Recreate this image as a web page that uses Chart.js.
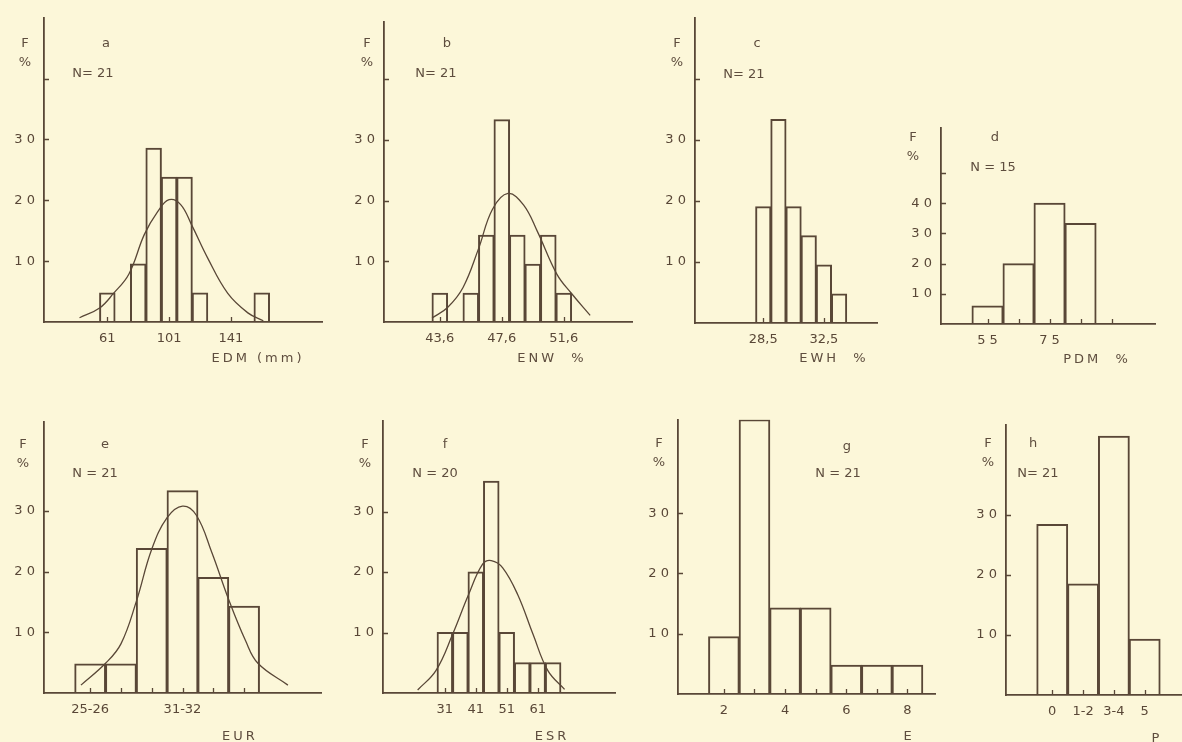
<!DOCTYPE html>
<html><head><meta charset="utf-8">
<script src="https://cdn.jsdelivr.net/npm/chart.js@4"></script>
<style>
html,body{margin:0;padding:0;background:#fcf7d9;width:1182px;height:742px;overflow:hidden;position:relative;}
canvas{position:absolute;}
.t{position:absolute;transform:translate(-50%,-50%);font-family:"DejaVu Sans",sans-serif;font-size:13px;color:#5e4d3e;white-space:pre;line-height:1;}
</style></head><body>
<script>
// ---------- DATA ----------
// a : EDM (mm)
const aBins = [61, 81, 91, 101, 111, 121, 161];
const aFreq = [4.76, 9.52, 28.57, 23.81, 23.81, 4.76, 4.76];
const aCurveX = [43, 56, 65, 75, 85, 93.5, 101, 108.5, 115.5, 126, 139, 152, 162];
const aCurveY = [0.7, 2.3, 4.7, 7.9, 14.4, 18.1, 20.1, 19.3, 16.0, 10.5, 4.7, 1.5, 0.2];
const aXTicks = [61, 101, 141];
const aXLabels = ['61', '101', '141'];
// b : ENW %
const bBins = [43.6, 45.6, 46.6, 47.6, 48.6, 49.6, 50.6, 51.6];
const bFreq = [4.76, 4.76, 14.29, 33.33, 14.29, 9.52, 14.29, 4.76];
const bCurveX = [43.1, 44.1, 45.1, 46.1, 47.0, 48.0, 49.0, 49.9, 51.15, 52.1, 53.3];
const bCurveY = [0.65, 2.4, 5.7, 12.1, 18.6, 21.2, 19.3, 14.9, 7.9, 4.7, 1.1];
const bXTicks = [43.6, 47.6, 51.6];
const bXLabels = ['43,6', '47,6', '51,6'];
// c : EWH %
const cBins = [28.5, 29.5, 30.5, 31.5, 32.5, 33.5];
const cFreq = [19.05, 33.33, 19.05, 14.29, 9.52, 4.76];
const cXTicks = [28.5, 32.5];
const cXLabels = ['28,5', '32,5'];
// d : PDM %
const dBins = [55, 65, 75, 85];
const dFreq = [6.0, 20.0, 40.0, 33.33];
const dXTicks = [55, 65, 75, 85, 95];
const dXLabels = ['5 5', '', '7 5', '', ''];
// e : EUR
const eBins = [25.5, 27.5, 29.5, 31.5, 33.5, 35.5];
const eFreq = [4.76, 4.76, 23.81, 33.33, 19.05, 14.29];
const eCurveX = [24.9, 26.5, 27.5, 28.5, 29.5, 30.5, 31.5, 32.4, 33.4, 34.5, 35.6, 36.4, 38.35];
const eCurveY = [1.3, 4.9, 8.1, 15.1, 23.7, 28.9, 30.8, 29.3, 23.2, 15.4, 8.6, 4.9, 1.3];
const eXTicks = [25.5, 27.5, 29.5, 31.5, 33.5, 35.5];
const eXLabels = ['25-26', '', '', '31-32', '', ''];
// f : ESR
const fBins = [31, 36, 41, 46, 51, 56, 61, 66];
const fFreq = [10, 10, 20, 35, 10, 5, 5, 5];
const fCurveX = [22.2, 28.1, 33.5, 38.6, 43.2, 46.0, 49.7, 54.6, 59.5, 64.3, 69.7];
const fCurveY = [0.5, 3.7, 9.7, 16.2, 21.3, 21.9, 20.7, 16.2, 9.7, 3.7, 0.6];
const fXTicks = [31, 41, 51, 61];
const fXLabels = ['31', '41', '51', '61'];
// g : E
const gBins = [2, 3, 4, 5, 6, 7, 8];
const gFreq = [9.52, 45.5, 14.29, 14.29, 4.76, 4.76, 4.76];
const gXTicks = [2, 3, 4, 5, 6, 7, 8];
const gXLabels = ['2', '', '4', '', '6', '', '8'];
// h : P
const hBins = [0, 1, 2, 3];
const hFreq = [28.4, 18.5, 43.1, 9.3];
const hXTicks = [0, 1, 2, 3];
const hXLabels = ['0', '1-2', '3-4', '5'];
// y ticks
const yTicksTop = [10, 20, 30, 40];
const yLabelsTop = ['1 0', '2 0', '3 0', ''];
const yTicksD = [10, 20, 30, 40, 50];
const yLabelsD = ['1 0', '2 0', '3 0', '4 0', ''];
const yTicksLow = [10, 20, 30];
const yLabelsLow = ['1 0', '2 0', '3 0'];

// ---------- DRAWING ----------
const INK = '#594737';
const FONT = '"DejaVu Sans", sans-serif';

const innerTicks = {
  id: 'innerTicks',
  afterDraw(chart) {
    const ctx = chart.ctx, a = chart.chartArea;
    const xs = chart.scales.x, ys = chart.scales.y;
    ctx.save();
    ctx.strokeStyle = INK; ctx.lineWidth = 1.3;
    ctx.beginPath();
    ys.ticks.forEach(t => { const py = Math.round(ys.getPixelForValue(t.value)) + 0.5; ctx.moveTo(a.left, py); ctx.lineTo(a.left + 5, py); });
    xs.ticks.forEach(t => { const px = Math.round(xs.getPixelForValue(t.value)) + 0.5; ctx.moveTo(px, a.bottom); ctx.lineTo(px, a.bottom - 5); });
    ctx.stroke();
    ctx.restore();
  }
};

function text(str, x, y, extra) {
  const d = document.createElement('div');
  d.className = 't';
  d.textContent = str;
  d.style.left = x + 'px'; d.style.top = y + 'px';
  if (extra) Object.assign(d.style, extra);
  document.body.appendChild(d);
}

function makePanel(p) {
  const W = 45, H = 40, PT = 12;
  const PR = p.padRight !== undefined ? p.padRight : 12;
  const cv = document.createElement('canvas');
  const width = Math.round(p.right - p.left + W + PR);
  const height = Math.round(p.bottom - p.top + PT + H);
  cv.width = width; cv.height = height;
  cv.style.left = (p.left - W) + 'px'; cv.style.top = (p.top - PT) + 'px';
  cv.style.width = width + 'px'; cv.style.height = height + 'px';
  document.body.appendChild(cv);
  const datasets = [{
    type: 'bar',
    data: p.bins.map((b, i) => ({ x: b, y: p.freq[i] })),
    backgroundColor: 'rgba(0,0,0,0)', borderColor: INK, borderWidth: 1,
    inflateAmount: 0.5,
    barPercentage: 1, categoryPercentage: 1, order: 2
  }];
  if (p.curveX) {
    datasets.push({
      type: 'line',
      data: p.curveX.map((x, i) => ({ x: x, y: p.curveY[i] })),
      borderColor: INK, borderWidth: 1.3, pointRadius: 0,
      tension: 0.4, fill: false, order: 1
    });
  }
  new Chart(cv, {
    type: 'bar',
    data: { datasets },
    plugins: [innerTicks],
    options: {
      responsive: false, animation: false, devicePixelRatio: 1,
      layout: { padding: { top: PT, right: PR, left: 0, bottom: 0 } },
      plugins: { legend: { display: false }, tooltip: { enabled: false } },
      scales: {
        x: {
          type: 'linear', min: p.xmin, max: p.xmax, offset: false,
          grid: { display: false, drawTicks: false, offset: false },
          border: { display: true, color: INK, width: 1.8 },
          afterBuildTicks: s => { s.ticks = p.xTicks.map(v => ({ value: v })); },
          afterFit: s => { s.height = H; },
          ticks: { autoSkip: false, maxRotation: 0, minRotation: 0, padding: 9, color: INK,
                   font: { family: FONT, size: 13 }, callback: (v, i) => p.xLabels[i] }
        },
        y: {
          type: 'linear', min: 0, max: p.ymax,
          grid: { display: false, drawTicks: false },
          border: { display: true, color: INK, width: 1.8 },
          afterBuildTicks: s => { s.ticks = p.yTicks.map(v => ({ value: v })); },
          afterFit: s => { s.width = W; },
          ticks: { padding: 9, color: INK, font: { family: FONT, size: 13 }, callback: (v, i) => p.yLabels[i] }
        }
      }
    }
  });
  text('F', p.fPos[0], p.fPos[1]);
  text('%', p.fPos[0], p.fPos[1] + 19);
  text(p.letter, p.letterPos[0], p.letterPos[1]);
  text(p.n, p.nPos[0], p.nPos[1]);
  text(p.title, p.titlePos[0], p.titlePos[1], { letterSpacing: '3px' });
}

makePanel({ bins: aBins, freq: aFreq, curveX: aCurveX, curveY: aCurveY, xTicks: aXTicks, xLabels: aXLabels,
  yTicks: yTicksTop, yLabels: yLabelsTop, xmin: 20, xmax: 200, ymax: 50,
  left: 44, top: 13, bottom: 322, right: 322,
  fPos: [25, 42], letter: 'a', letterPos: [106, 42], n: 'N= 21', nPos: [93, 72], title: 'EDM (mm)', titlePos: [258, 357] });
makePanel({ bins: bBins, freq: bFreq, curveX: bCurveX, curveY: bCurveY, xTicks: bXTicks, xLabels: bXLabels,
  yTicks: yTicksTop, yLabels: yLabelsTop, xmin: 40, xmax: 56, ymax: 49.5,
  left: 384, top: 17, bottom: 322, right: 632,
  fPos: [367, 42], letter: 'b', letterPos: [447, 42], n: 'N= 21', nPos: [436, 72], title: 'ENW  %', titlePos: [552, 357] });
makePanel({ bins: cBins, freq: cFreq, xTicks: cXTicks, xLabels: cXLabels,
  yTicks: yTicksTop, yLabels: yLabelsTop, xmin: 24, xmax: 36, ymax: 50,
  left: 695, top: 13, bottom: 323, right: 877,
  fPos: [677, 42], letter: 'c', letterPos: [757, 42], n: 'N= 21', nPos: [744, 73], title: 'EWH  %', titlePos: [834, 357] });
makePanel({ bins: dBins, freq: dFreq, xTicks: dXTicks, xLabels: dXLabels,
  yTicks: yTicksD, yLabels: yLabelsD, xmin: 40, xmax: 109, ymax: 65,
  left: 941, top: 123, bottom: 324, right: 1155,
  fPos: [913, 136], letter: 'd', letterPos: [995, 136], n: 'N = 15', nPos: [993, 166], title: 'PDM  %', titlePos: [1097, 358] });
makePanel({ bins: eBins, freq: eFreq, curveX: eCurveX, curveY: eCurveY, xTicks: eXTicks, xLabels: eXLabels,
  yTicks: yTicksLow, yLabels: yLabelsLow, xmin: 22.5, xmax: 40.5, ymax: 44.7,
  left: 44, top: 417, bottom: 693, right: 321,
  fPos: [23, 443], letter: 'e', letterPos: [105, 443], n: 'N = 21', nPos: [95, 472], title: 'EUR', titlePos: [240, 735] });
makePanel({ bins: fBins, freq: fFreq, curveX: fCurveX, curveY: fCurveY, xTicks: fXTicks, xLabels: fXLabels,
  yTicks: yTicksLow, yLabels: yLabelsLow, xmin: 11, xmax: 86, ymax: 45,
  left: 383, top: 416, bottom: 693, right: 615,
  fPos: [365, 443], letter: 'f', letterPos: [445, 443], n: 'N = 20', nPos: [435, 472], title: 'ESR', titlePos: [552, 735] });
makePanel({ bins: gBins, freq: gFreq, xTicks: gXTicks, xLabels: gXLabels,
  yTicks: yTicksLow, yLabels: yLabelsLow, xmin: 0.5, xmax: 8.9, ymax: 45.5,
  left: 678, top: 415, bottom: 694, right: 935,
  fPos: [659, 442], letter: 'g', letterPos: [847, 445], n: 'N = 21', nPos: [838, 472], title: 'E', titlePos: [909, 735] });
makePanel({ bins: hBins, freq: hFreq, xTicks: hXTicks, xLabels: hXLabels,
  yTicks: yTicksLow, yLabels: yLabelsLow, xmin: -1.5, xmax: 4.21, ymax: 45,
  left: 1006, top: 420, bottom: 695, right: 1182, padRight: 0,
  fPos: [988, 442], letter: 'h', letterPos: [1033, 442], n: 'N= 21', nPos: [1038, 472], title: 'P', titlePos: [1157, 737] });
</script>
</body></html>
